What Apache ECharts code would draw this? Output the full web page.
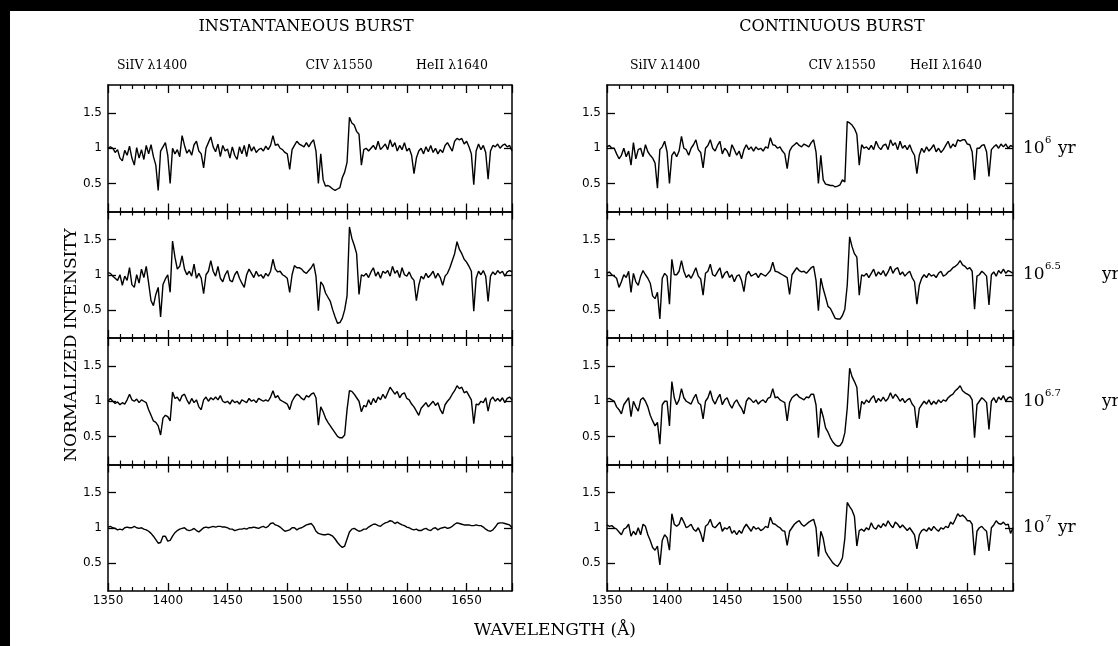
<!DOCTYPE html>
<html>
<head>
<meta charset="utf-8">
<title>UV spectra - instantaneous and continuous burst</title>
<script src="https://cdn.jsdelivr.net/npm/echarts@6/dist/echarts.min.js"></script>
<style>
  html, body { margin: 0; padding: 0; background: #fff; }
  #chart { width: 1118px; height: 646px; }
</style>
</head>
<body>
<div id="chart"></div>
<script>
// wavelength grid (Å), one sample every 2 Å
const wavelength = [
  1350, 1352, 1354, 1356, 1358, 1360, 1362, 1364, 1366, 1368,
  1370, 1372, 1374, 1376, 1378, 1380, 1382, 1384, 1386, 1388,
  1390, 1392, 1394, 1396, 1398, 1400, 1402, 1404, 1406, 1408,
  1410, 1412, 1414, 1416, 1418, 1420, 1422, 1424, 1426, 1428,
  1430, 1432, 1434, 1436, 1438, 1440, 1442, 1444, 1446, 1448,
  1450, 1452, 1454, 1456, 1458, 1460, 1462, 1464, 1466, 1468,
  1470, 1472, 1474, 1476, 1478, 1480, 1482, 1484, 1486, 1488,
  1490, 1492, 1494, 1496, 1498, 1500, 1502, 1504, 1506, 1508,
  1510, 1512, 1514, 1516, 1518, 1520, 1522, 1524, 1526, 1528,
  1530, 1532, 1534, 1536, 1538, 1540, 1542, 1544, 1546, 1548,
  1550, 1552, 1554, 1556, 1558, 1560, 1562, 1564, 1566, 1568,
  1570, 1572, 1574, 1576, 1578, 1580, 1582, 1584, 1586, 1588,
  1590, 1592, 1594, 1596, 1598, 1600, 1602, 1604, 1606, 1608,
  1610, 1612, 1614, 1616, 1618, 1620, 1622, 1624, 1626, 1628,
  1630, 1632, 1634, 1636, 1638, 1640, 1642, 1644, 1646, 1648,
  1650, 1652, 1654, 1656, 1658, 1660, 1662, 1664, 1666, 1668,
  1670, 1672, 1674, 1676, 1678, 1680, 1682, 1684, 1686, 1688
];

// instantaneous burst, 10^6 yr
const instant6 = [
  1.00, 1.02, 1.00, 0.94, 0.98, 0.86, 0.82, 0.97, 0.90, 1.03,
  0.86, 0.76, 1.01, 0.86, 0.98, 0.84, 1.04, 0.92, 1.05, 0.88,
  0.76, 0.40, 0.96, 1.02, 1.08, 0.90, 0.50, 1.00, 0.92, 0.98,
  0.88, 1.18, 1.04, 0.93, 0.98, 0.90, 1.05, 1.10, 0.96, 0.92,
  0.72, 1.00, 1.08, 1.16, 1.02, 0.95, 1.06, 0.88, 1.04, 0.96,
  0.99, 0.86, 1.02, 0.90, 0.84, 1.02, 0.92, 1.04, 0.88, 1.06,
  0.96, 1.02, 0.94, 0.98, 1.00, 0.96, 1.03, 0.98, 1.04, 1.18,
  1.04, 1.06, 1.00, 0.98, 0.94, 0.92, 0.70, 0.98, 1.04, 1.10,
  1.06, 1.04, 1.02, 1.08, 1.02, 1.08, 1.12, 0.96, 0.50, 0.92,
  0.55, 0.46, 0.47, 0.45, 0.42, 0.40, 0.42, 0.44, 0.58, 0.66,
  0.80, 1.44, 1.36, 1.33, 1.24, 1.20, 0.76, 0.98, 1.00, 0.96,
  1.00, 1.04, 0.98, 1.10, 0.98, 1.02, 1.06, 0.98, 1.12, 1.02,
  1.08, 0.96, 1.04, 0.98, 1.08, 0.96, 1.00, 0.90, 0.64, 0.86,
  0.96, 1.00, 0.92, 1.02, 0.95, 1.04, 0.94, 1.00, 0.92, 0.98,
  0.94, 1.04, 1.08, 1.02, 0.96, 1.10, 1.14, 1.12, 1.14, 1.06,
  1.10, 1.02, 0.92, 0.48, 0.96, 1.06, 0.98, 1.04, 0.94, 0.56,
  0.96, 1.04, 1.02, 1.06, 1.00, 1.04, 1.06, 1.02, 1.04, 0.96
];

// instantaneous burst, 10^6.5 yr
const instant65 = [
  1.03, 1.02, 0.98, 0.95, 0.92, 1.00, 0.85, 0.98, 0.92, 1.10,
  0.86, 0.82, 1.00, 0.88, 1.08, 0.96, 1.12, 0.88, 0.63, 0.56,
  0.72, 0.82, 0.40, 0.86, 0.94, 1.00, 0.75, 1.48, 1.25, 1.08,
  1.12, 1.27, 1.08, 1.00, 1.05, 0.98, 1.15, 0.95, 1.02, 0.95,
  0.73, 1.00, 1.05, 1.20, 1.05, 0.98, 1.12, 0.95, 0.90, 1.00,
  1.06, 0.92, 0.90, 1.00, 1.05, 0.95, 0.88, 0.82, 1.00, 1.08,
  1.02, 0.96, 1.05, 0.98, 1.00, 0.95, 1.02, 0.98, 1.05, 1.22,
  1.08, 1.04, 1.05, 1.00, 0.98, 0.95, 0.75, 1.00, 1.13, 1.10,
  1.10, 1.08, 1.04, 1.02, 1.06, 1.10, 1.16, 0.98, 0.49, 0.90,
  0.85, 0.74, 0.68, 0.62, 0.50, 0.40, 0.31, 0.32, 0.38, 0.50,
  0.70, 1.68, 1.52, 1.42, 1.30, 0.72, 1.00, 0.98, 1.02, 0.96,
  1.04, 1.10, 0.98, 1.04, 0.95, 1.05, 1.02, 1.06, 0.98, 1.12,
  1.02, 1.06, 0.96, 1.10, 1.00, 0.98, 1.04, 0.96, 0.92, 0.63,
  0.85, 0.98, 0.94, 1.02, 0.96, 1.00, 1.05, 0.95, 1.02, 0.96,
  0.85, 0.98, 1.02, 1.10, 1.20, 1.30, 1.47, 1.36, 1.30, 1.22,
  1.18, 1.12, 1.05, 0.48, 0.95, 1.05, 1.00, 1.06, 0.98, 0.62,
  0.98, 1.04, 1.00, 1.06, 1.02, 1.05, 0.98, 1.04, 1.06, 1.04
];

// instantaneous burst, 10^6.7 yr
const instant67 = [
  1.00, 1.04, 1.00, 0.97, 0.99, 0.95, 0.98, 0.96, 1.02, 1.10,
  1.02, 1.00, 1.03, 0.98, 1.02, 1.00, 0.98, 0.88, 0.80, 0.72,
  0.70, 0.65, 0.52, 0.76, 0.80, 0.78, 0.72, 1.13, 1.04, 1.06,
  1.00, 1.08, 1.10, 1.02, 0.96, 1.04, 0.98, 1.02, 0.92, 0.88,
  1.02, 1.06, 1.00, 1.05, 1.02, 1.06, 1.02, 1.08, 1.00, 0.98,
  1.00, 0.96, 1.02, 0.98, 1.00, 0.96, 1.02, 1.00, 0.98, 1.04,
  1.00, 1.02, 0.98, 1.04, 1.02, 1.00, 1.02, 1.00, 1.06, 1.15,
  1.05, 1.08, 1.02, 1.00, 0.98, 0.96, 0.88, 1.00, 1.06, 1.10,
  1.08, 1.04, 1.02, 1.08, 1.06, 1.10, 1.12, 1.05, 0.66, 0.92,
  0.85, 0.76, 0.70, 0.65, 0.60, 0.55, 0.50, 0.48, 0.48, 0.52,
  0.88, 1.15, 1.14, 1.10, 1.05, 1.00, 0.85, 0.94, 0.92, 1.02,
  0.95, 1.04, 0.98, 1.06, 1.02, 1.10, 1.04, 1.12, 1.20, 1.15,
  1.10, 1.14, 1.05, 1.10, 1.12, 1.04, 1.02, 0.96, 0.92, 0.86,
  0.80, 0.90, 0.94, 0.98, 0.92, 0.96, 1.00, 0.94, 0.98, 0.88,
  0.82, 0.95, 1.00, 1.04, 1.10, 1.15, 1.22, 1.18, 1.20, 1.12,
  1.14, 1.08, 1.02, 0.68, 0.96, 0.95, 1.00, 0.98, 1.05, 0.86,
  1.02, 1.06, 1.00, 1.04, 1.00, 1.05, 0.98, 1.04, 1.06, 1.02
];

// instantaneous burst, 10^7 yr
const instant7 = [
  1.01, 1.02, 1.00, 0.99, 0.97, 0.98, 0.97, 1.00, 1.01, 1.00,
  1.00, 1.02, 1.00, 0.99, 1.00, 0.98, 0.97, 0.95, 0.92, 0.88,
  0.83, 0.78, 0.79, 0.88, 0.88, 0.81, 0.82, 0.88, 0.93, 0.96,
  0.98, 0.99, 1.00, 0.97, 0.96, 0.97, 0.99, 0.96, 0.94, 0.97,
  1.00, 1.01, 1.00, 1.01, 1.02, 1.01, 1.02, 1.02, 1.01, 1.01,
  1.00, 0.98, 0.98, 0.96, 0.97, 0.98, 0.98, 0.99, 0.98, 1.00,
  1.00, 1.01, 1.00, 0.99, 1.01, 1.02, 1.00, 1.02, 1.06, 1.07,
  1.04, 1.03, 1.01, 0.98, 0.95, 0.96, 0.97, 1.00, 1.00, 0.97,
  0.99, 1.00, 1.02, 1.04, 1.05, 1.06, 1.02, 0.95, 0.92, 0.91,
  0.90, 0.90, 0.91, 0.90, 0.88, 0.84, 0.79, 0.75, 0.72, 0.74,
  0.84, 0.94, 0.98, 0.99, 0.97, 0.95, 0.96, 0.98, 0.98, 1.01,
  1.03, 1.05, 1.05, 1.03, 1.02, 1.05, 1.07, 1.08, 1.10, 1.09,
  1.06, 1.08, 1.06, 1.04, 1.03, 1.01, 1.00, 0.98, 0.97, 0.98,
  0.96, 0.96, 0.98, 0.99, 0.97, 0.96, 0.99, 1.00, 0.97, 0.99,
  1.00, 1.01, 0.99, 1.00, 1.02, 1.05, 1.07, 1.06, 1.05, 1.04,
  1.04, 1.04, 1.03, 1.03, 1.04, 1.03, 1.03, 1.01, 0.98, 0.96,
  0.95, 0.97, 1.01, 1.06, 1.07, 1.07, 1.06, 1.05, 1.04, 1.00
];

// continuous burst, 10^6 yr
const contin6 = [
  1.02, 1.04, 1.00, 1.00, 0.92, 0.85, 0.90, 1.00, 0.88, 0.96,
  0.76, 1.08, 0.85, 0.98, 1.00, 0.88, 1.05, 0.95, 0.90, 0.86,
  0.79, 0.43, 0.98, 1.02, 1.10, 0.95, 0.50, 0.90, 0.95, 0.88,
  0.96, 1.17, 1.00, 0.98, 0.90, 1.00, 1.05, 1.12, 0.98, 0.94,
  0.72, 1.00, 1.04, 1.12, 1.00, 0.96, 1.04, 1.10, 0.92, 1.00,
  0.96, 0.88, 1.05, 0.98, 0.90, 0.96, 0.85, 0.98, 1.05, 0.98,
  1.02, 0.96, 1.02, 0.98, 1.00, 0.96, 1.02, 1.00, 1.15, 1.05,
  1.04, 1.00, 1.02, 0.96, 0.92, 0.71, 0.96, 1.02, 1.05, 1.08,
  1.04, 1.02, 1.06, 1.04, 1.02, 1.08, 1.12, 0.95, 0.50, 0.90,
  0.55, 0.49, 0.48, 0.47, 0.47, 0.45, 0.46, 0.48, 0.55, 0.52,
  1.38, 1.36, 1.33, 1.28, 1.20, 0.76, 1.05, 1.00, 1.02, 0.98,
  1.04, 0.98, 1.10, 1.02, 0.98, 1.04, 1.06, 0.98, 1.12, 1.04,
  1.08, 0.98, 1.10, 1.00, 1.04, 0.98, 1.05, 0.96, 0.90, 0.64,
  0.90, 1.00, 0.94, 1.02, 0.96, 1.00, 1.05, 0.95, 1.00, 0.94,
  0.98, 1.04, 1.10, 1.00, 1.06, 1.02, 1.12, 1.10, 1.12, 1.12,
  1.06, 1.05, 0.95, 0.55, 1.00, 1.00, 1.04, 1.05, 0.95, 0.60,
  0.98, 1.02, 1.05, 1.00, 1.06, 1.02, 1.06, 1.00, 1.04, 1.02
];

// continuous burst, 10^6.5 yr
const contin65 = [
  1.02, 1.04, 1.00, 0.98, 0.95, 0.82, 0.90, 1.00, 0.96, 1.05,
  0.75, 1.02, 0.90, 0.85, 0.98, 1.06, 1.00, 0.95, 0.88, 0.70,
  0.66, 0.75, 0.37, 0.95, 1.02, 0.98, 0.58, 1.22, 1.00, 1.00,
  1.05, 1.20, 1.05, 0.96, 1.00, 0.95, 1.02, 1.10, 0.98, 0.94,
  0.71, 1.02, 1.05, 1.15, 1.00, 0.98, 1.04, 1.10, 0.95, 1.02,
  1.05, 0.96, 1.00, 0.90, 0.98, 1.00, 0.92, 0.76, 1.00, 1.05,
  0.98, 1.00, 1.02, 0.96, 1.02, 1.00, 0.98, 1.02, 1.06, 1.18,
  1.05, 1.04, 1.02, 1.00, 0.98, 0.96, 0.72, 1.00, 1.05, 1.10,
  1.06, 1.04, 1.05, 1.02, 1.06, 1.10, 1.12, 0.92, 0.49, 0.95,
  0.80, 0.68, 0.55, 0.52, 0.45, 0.38, 0.37, 0.37, 0.42, 0.51,
  0.85, 1.54, 1.40, 1.30, 1.25, 0.71, 1.00, 0.98, 1.02, 0.96,
  1.02, 1.08, 0.98, 1.04, 1.00, 1.06, 0.98, 1.04, 1.12, 1.02,
  1.08, 1.10, 1.00, 1.04, 0.98, 1.02, 1.05, 0.96, 0.90, 0.58,
  0.85, 0.95, 1.00, 0.96, 1.02, 0.98, 1.00, 0.96, 1.02, 1.05,
  0.98, 1.00, 1.04, 1.06, 1.10, 1.12, 1.15, 1.20, 1.14, 1.12,
  1.08, 1.10, 1.05, 0.51, 0.98, 1.00, 1.05, 1.02, 0.98, 0.57,
  1.00, 1.04, 0.98, 1.06, 1.02, 1.08, 1.02, 1.06, 1.04, 1.02
];

// continuous burst, 10^6.7 yr
const contin67 = [
  1.03, 1.04, 1.02, 1.00, 0.92, 0.88, 0.82, 0.95, 1.00, 1.05,
  0.78, 1.00, 0.92, 0.86, 1.02, 1.05, 1.00, 0.92, 0.80, 0.72,
  0.65, 0.70, 0.39, 0.95, 1.00, 1.00, 0.65, 1.28, 1.05, 0.95,
  1.02, 1.18, 1.05, 1.00, 0.98, 0.96, 1.04, 1.10, 0.98, 0.95,
  0.75, 1.00, 1.05, 1.15, 1.02, 0.96, 1.04, 1.10, 0.95, 1.02,
  1.05, 0.96, 0.90, 0.98, 1.02, 0.95, 0.90, 0.82, 1.00, 1.05,
  1.02, 0.98, 1.02, 0.96, 1.00, 1.02, 0.98, 1.04, 1.06, 1.18,
  1.05, 1.06, 1.02, 1.00, 0.98, 0.72, 0.98, 1.05, 1.08, 1.10,
  1.06, 1.04, 1.02, 1.06, 1.05, 1.10, 1.10, 0.95, 0.48, 0.90,
  0.78, 0.62, 0.56, 0.48, 0.42, 0.38, 0.36, 0.37, 0.42, 0.55,
  0.90, 1.47, 1.35, 1.28, 1.20, 0.75, 1.00, 0.96, 1.02, 0.98,
  1.04, 1.08, 0.98, 1.04, 1.00, 1.06, 1.00, 1.04, 1.12, 1.04,
  1.10, 1.06, 1.00, 1.04, 0.98, 1.02, 1.04, 0.96, 0.92, 0.62,
  0.90, 0.95, 1.00, 0.96, 1.02, 0.95, 1.00, 0.96, 1.02, 0.98,
  1.02, 1.00, 1.05, 1.08, 1.10, 1.15, 1.18, 1.22, 1.15, 1.12,
  1.10, 1.08, 1.02, 0.48, 0.95, 1.00, 1.05, 1.02, 0.98, 0.60,
  1.00, 1.05, 0.98, 1.06, 1.02, 1.08, 1.00, 1.05, 1.06, 1.02
];

// continuous burst, 10^7 yr
const contin7 = [
  1.04, 1.02, 1.03, 1.00, 0.98, 0.94, 0.90, 0.98, 1.00, 1.05,
  0.88, 0.95, 0.90, 1.00, 0.90, 1.05, 1.02, 0.90, 0.82, 0.72,
  0.68, 0.74, 0.47, 0.82, 0.90, 0.86, 0.68, 1.20, 1.05, 1.02,
  1.05, 1.15, 1.08, 1.00, 1.02, 1.05, 0.98, 0.95, 1.00, 0.92,
  0.80, 1.02, 1.05, 1.12, 1.02, 1.00, 1.04, 1.08, 0.95, 1.00,
  0.98, 1.02, 0.92, 0.96, 0.90, 0.96, 0.92, 1.00, 1.05, 1.00,
  0.95, 1.02, 0.98, 1.00, 0.96, 0.98, 1.02, 1.00, 1.15, 1.06,
  1.05, 1.02, 1.00, 0.96, 0.95, 0.75, 0.95, 1.00, 1.05, 1.08,
  1.10, 1.05, 1.02, 1.05, 1.08, 1.10, 1.12, 1.00, 0.59, 0.95,
  0.85, 0.66, 0.60, 0.55, 0.50, 0.47, 0.45, 0.50, 0.57, 0.85,
  1.36, 1.30, 1.25, 1.16, 0.74, 0.96, 0.98, 0.95, 1.00, 0.97,
  1.07, 1.00, 0.98, 1.04, 1.00, 1.06, 1.02, 1.10, 1.04, 1.00,
  1.08, 1.05, 1.00, 1.04, 1.00, 0.96, 1.00, 0.95, 0.90, 0.70,
  0.90, 0.96, 0.98, 0.95, 1.00, 0.96, 1.02, 0.98, 0.95, 1.00,
  0.98, 1.02, 1.00, 1.08, 1.05, 1.12, 1.20, 1.16, 1.18, 1.15,
  1.10, 1.10, 1.05, 0.61, 0.95, 1.00, 1.02, 0.98, 0.95, 0.67,
  1.00, 1.04, 1.10, 1.06, 1.05, 1.08, 1.04, 1.05, 0.92, 1.00
];

const xTickLabels = [1350, 1400, 1450, 1500, 1550, 1600, 1650];
const yTickLabels = [0.5, 1, 1.5];
const ageExponents = ['6', '6.5', '6.7', '7'];
const columnTitles = ['INSTANTANEOUS BURST', 'CONTINUOUS BURST'];
const lineNames = ['SiIV \u03bb1400', 'CIV \u03bb1550', 'HeII \u03bb1640'];

const panels = [
  { values: instant6, col: 0, row: 0 },
  { values: instant65, col: 0, row: 1 },
  { values: instant67, col: 0, row: 2 },
  { values: instant7, col: 0, row: 3 },
  { values: contin6, col: 1, row: 0 },
  { values: contin65, col: 1, row: 1 },
  { values: contin67, col: 1, row: 2 },
  { values: contin7, col: 1, row: 3 }
];

// layout in px
const colLeft = [108, 607];
const colWidth = [404, 406];
const rowTop = 85;
const rowHeight = 126.5;
const Y_MIN = 0.1, Y_MAX = 1.9, X_MIN = 1350, X_MAX = 1688;

const INK = '#000';
const serif = '"DejaVu Serif", "Liberation Serif", serif';
const sans = '"DejaVu Sans", "Liberation Sans", sans-serif';

// long ticks every 50 A, short (minor) ticks every 10 A, all pointing into the box
function xAxisDef(gridIndex, position, showLabels) {
  return {
    type: 'value',
    gridIndex: gridIndex,
    position: position,
    min: X_MIN,
    max: X_MAX,
    interval: 50,
    axisLine: { show: true, onZero: false, lineStyle: { color: INK, width: 1.5 } },
    axisTick: { show: true, inside: true, length: 8, lineStyle: { color: INK, width: 1.3 } },
    minorTick: { show: true, splitNumber: 5, length: 4, lineStyle: { color: INK, width: 1.2 } },
    axisLabel: {
      show: showLabels,
      customValues: xTickLabels,
      formatter: function (v) { return String(v); },
      fontFamily: sans,
      fontSize: 12,
      color: INK,
      margin: 4
    },
    splitLine: { show: false },
    minorSplitLine: { show: false }
  };
}

function yAxisDef(gridIndex, position, showLabels) {
  return {
    type: 'value',
    gridIndex: gridIndex,
    position: position,
    min: Y_MIN,
    max: Y_MAX,
    axisLine: { show: true, onZero: false, lineStyle: { color: INK, width: 1.5 } },
    axisTick: { inside: true, length: 8, customValues: yTickLabels, lineStyle: { color: INK, width: 1.3 } },
    axisLabel: {
      show: showLabels,
      customValues: yTickLabels,
      formatter: function (v) { return String(v); },
      fontFamily: sans,
      fontSize: 12,
      color: INK,
      margin: 6
    },
    splitLine: { show: false }
  };
}

const option = {
  animation: false,
  backgroundColor: '#fff',
  grid: [],
  xAxis: [],
  yAxis: [],
  series: [],
  graphic: { elements: [] }
};

panels.forEach(function (p, k) {
  option.grid.push({
    left: colLeft[p.col],
    top: rowTop + p.row * rowHeight,
    width: colWidth[p.col],
    height: rowHeight
  });
  const xi = option.xAxis.length;
  option.xAxis.push(xAxisDef(k, 'bottom', p.row === 3));
  option.xAxis.push(xAxisDef(k, 'top', false));
  const yi = option.yAxis.length;
  option.yAxis.push(yAxisDef(k, 'left', true));
  option.yAxis.push(yAxisDef(k, 'right', false));
  option.series.push({
    type: 'line',
    xAxisIndex: xi,
    yAxisIndex: yi,
    data: wavelength.map(function (w, i) { return [w, p.values[i]]; }),
    symbol: 'none',
    showSymbol: false,
    silent: true,
    lineStyle: { color: INK, width: 1.4 }
  });
});

function text(str, x, y, size, align, extra) {
  const el = {
    type: 'text',
    x: x,
    y: y,
    silent: true,
    style: {
      text: str,
      font: size + 'px ' + serif,
      fill: INK,
      align: align || 'center',
      verticalAlign: 'middle',
      textAlign: align || 'center',
      textVerticalAlign: 'middle'
    }
  };
  return Object.assign(el, extra || {});
}

const els = option.graphic.elements;
// scan border (black strips at top and left)
els.push({ type: 'rect', shape: { x: 0, y: 0, width: 1118, height: 11 }, style: { fill: '#000' }, silent: true });
els.push({ type: 'rect', shape: { x: 0, y: 0, width: 10, height: 646 }, style: { fill: '#000' }, silent: true });

els.push(text(columnTitles[0], 306, 27, 16));
els.push(text(columnTitles[1], 832, 27, 16));

const lineLabelX = [[152, 339, 452], [665, 842, 946]];
lineLabelX.forEach(function (xs) {
  xs.forEach(function (x, i) { els.push(text(lineNames[i], x, 66, 12.5)); });
});

els.push(text('NORMALIZED INTENSITY', 72, 345, 17, 'center', { rotation: Math.PI / 2 }));
els.push(text('WAVELENGTH (\u00c5)', 555, 631, 17));

// age labels to the right of the continuous burst panels (the long ones run off the page)
ageExponents.forEach(function (e, r) {
  const y = rowTop + r * rowHeight + (Y_MAX - 1) / (Y_MAX - Y_MIN) * rowHeight;
  els.push(text('10', 1023, y, 17, 'left'));
  els.push(text(e, 1045, y - 8, 10, 'left'));
  els.push(text('yr', e.length > 1 ? 1102 : 1058, y, 17, 'left'));
});

const chart = echarts.init(document.getElementById('chart'));
chart.setOption(option);
</script>
</body>
</html>
